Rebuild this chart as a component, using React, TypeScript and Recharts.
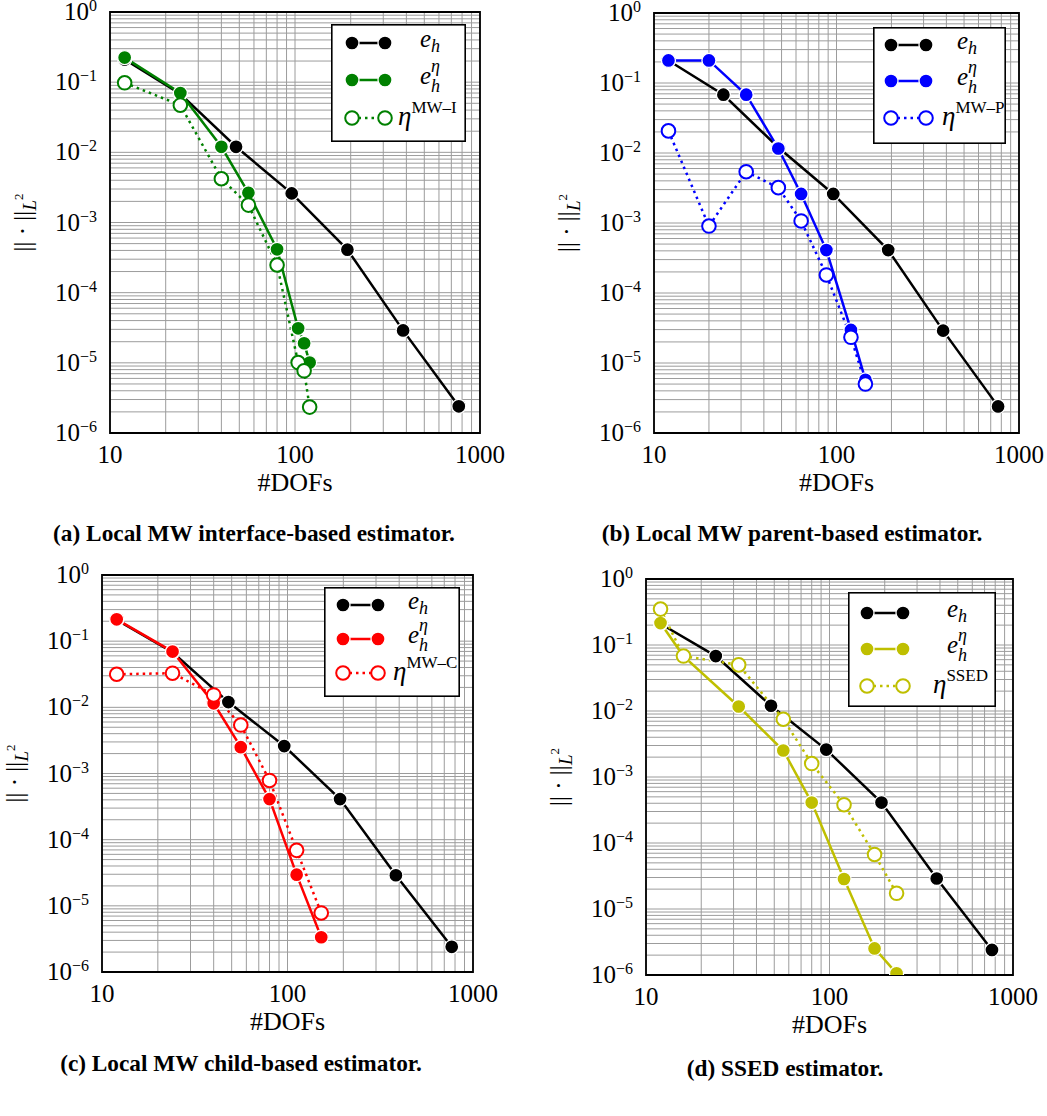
import React from 'react';
import { LineChart, Line, XAxis, YAxis, CartesianGrid, ReferenceArea, Legend } from 'recharts';

const FONT = 'Liberation Serif, Times New Roman, serif';
const SERIF: React.CSSProperties = { fontFamily: FONT };

// exact error e_h (same in all panels)
const dofsExact = [12, 24, 48, 96, 192, 384, 768];
const errExact = [0.21, 0.068, 0.012, 0.0026, 0.00041, 0.000029, 0.0000024];

// (a) interface-based
const dofsA = [12, 24, 40, 56, 80, 104, 112, 120];
const effA = [0.224, 0.07, 0.012, 0.00265, 0.000415, 0.000031, 0.000019, 0.0000101];
const estA = [0.098, 0.047, 0.0042, 0.00177, 0.000248, 0.0000101, 0.0000077, 0.00000234];

// (b) parent-based
const dofsB = [12, 20, 32, 48, 64, 88, 120, 144];
const effB = [0.21, 0.21, 0.068, 0.0116, 0.0026, 0.00041, 0.0000297, 0.00000575];
const estB = [0.0207, 0.000905, 0.0054, 0.0032, 0.00107, 0.000181, 0.0000233, 0.000005];

// (c) child-based
const dofsC = [12, 24, 40, 56, 80, 112, 152];
const effC = [0.214, 0.0696, 0.0115, 0.0025, 0.00041, 0.0000296, 0.00000335];
const estC = [0.0316, 0.0328, 0.0154, 0.0054, 0.000785, 0.000069, 0.0000078];

// (d) SSED
const dofsD = [12, 16, 32, 56, 80, 120, 176, 232];
const effD = [0.215, 0.068, 0.0117, 0.00252, 0.00041, 0.0000285, 0.00000253, 0.00000106];
const estD = [0.35, 0.068, 0.05, 0.0075, 0.0016, 0.00038, 0.000067, 0.0000173];

const xTicks = [10, 20, 30, 40, 50, 60, 70, 80, 90, 100, 200, 300, 400, 500, 600, 700, 800, 900, 1000];
const yTicks = [
  0.000001, 0.000002, 0.000003, 0.000004, 0.000005, 0.000006, 0.000007, 0.000008, 0.000009,
  0.00001, 0.00002, 0.00003, 0.00004, 0.00005, 0.00006, 0.00007, 0.00008, 0.00009,
  0.0001, 0.0002, 0.0003, 0.0004, 0.0005, 0.0006, 0.0007, 0.0008, 0.0009,
  0.001, 0.002, 0.003, 0.004, 0.005, 0.006, 0.007, 0.008, 0.009,
  0.01, 0.02, 0.03, 0.04, 0.05, 0.06, 0.07, 0.08, 0.09,
  0.1, 0.2, 0.3, 0.4, 0.5, 0.6, 0.7, 0.8, 0.9, 1,
];
const xMajorLabels = ['10', '100', '1000'];
const yMajorLabels = ['0', '\u22121', '\u22122', '\u22123', '\u22124', '\u22125', '\u22126'];

const pts = (xs: number[], ys: number[]) => xs.map((x, i) => ({ x, y: ys[i] }));

const majorIndex = (v: number) => {
  const l = Math.log10(v);
  return Math.abs(l - Math.round(l)) < 1e-6 ? Math.round(l) : null;
};

const XTick = (props: any) => {
  const { x, y, payload } = props;
  const m = majorIndex(payload.value);
  if (m === null) return <g />;
  return (
    <text x={x} y={y + 30} textAnchor="middle" fontFamily={FONT} style={{ ...SERIF, fontSize: 25 }} fill="#000">
      {xMajorLabels[m - 1]}
    </text>
  );
};

const YTick = (props: any) => {
  const { x, y, payload } = props;
  const m = majorIndex(payload.value);
  if (m === null) return <g />;
  return (
    <text x={x - 13} y={y + 8} textAnchor="end" fontFamily={FONT} style={{ ...SERIF, fontSize: 25 }} fill="#000">
      <tspan>10</tspan>
      <tspan style={{ fontSize: 16 }} dy={-9}>{yMajorLabels[-m]}</tspan>
    </text>
  );
};

const XLabel = (props: any) => (
  <text x={props.cx} y={props.cy + 8} textAnchor="middle" fontFamily={FONT} style={{ ...SERIF, fontSize: 26 }} fill="#000">
    #DOFs
  </text>
);

const YLabel = (props: any) => {
  const { cx, cy } = props;
  return (
    <text
      x={cx}
      y={cy + 8}
      transform={`rotate(-90 ${cx} ${cy})`}
      textAnchor="middle"
      fontFamily={FONT}
      style={{ ...SERIF, fontSize: 25 }}
      fill="#000"
    >
      {'|| \u00b7 ||'}
      <tspan style={{ fontStyle: 'italic', fontSize: 19 }} dy={5}>L</tspan>
      <tspan style={{ fontSize: 13 }} dy={-13}>2</tspan>
    </text>
  );
};

const filledDot = (color: string) => (p: any) => (
  <circle key={`f-${p.index}`} cx={p.cx} cy={p.cy} r={7} fill={color} stroke="#fff" strokeWidth={1.3} />
);
const openDot = (color: string) => (p: any) => (
  <circle key={`o-${p.index}`} cx={p.cx} cy={p.cy} r={6.8} fill="#fff" stroke={color} strokeWidth={2} />
);

type LegendCfg = { x: number; y: number; w: number; h: number; rows: number[]; mx: number[]; tx: number; etaX: number };

const LegendBox = ({ cfg, color, sup }: { cfg: LegendCfg; color: string; sup: string }) => {
  const { w, h, rows, mx, tx, etaX } = cfg;
  const it: React.CSSProperties = { ...SERIF, fontStyle: 'italic' };
  return (
    <svg width={w} height={h} style={{ display: 'block', fontFamily: FONT }}>
      <rect x={0.8} y={0.8} width={w - 1.6} height={h - 1.6} fill="#fff" stroke="#000" strokeWidth={1.6} />
      {/* row 1 */}
      <line x1={mx[0]} x2={mx[1]} y1={rows[0]} y2={rows[0]} stroke="#000" strokeWidth={2.5} />
      <circle cx={mx[0]} cy={rows[0]} r={7} fill="#000" stroke="#fff" strokeWidth={1.3} />
      <circle cx={mx[1]} cy={rows[0]} r={7} fill="#000" stroke="#fff" strokeWidth={1.3} />
      <text x={tx} y={rows[0] + 4} style={{ ...it, fontSize: 25 }} fill="#000">
        e<tspan style={{ fontSize: 18 }} dy={5}>h</tspan>
      </text>
      {/* row 2 */}
      <line x1={mx[0]} x2={mx[1]} y1={rows[1]} y2={rows[1]} stroke={color} strokeWidth={2.5} />
      <circle cx={mx[0]} cy={rows[1]} r={7} fill={color} stroke="#fff" strokeWidth={1.3} />
      <circle cx={mx[1]} cy={rows[1]} r={7} fill={color} stroke="#fff" strokeWidth={1.3} />
      <text x={tx} y={rows[1] + 4} style={{ ...it, fontSize: 25 }} fill="#000">e</text>
      <text x={tx + 11} y={rows[1] - 8} style={{ ...it, fontSize: 18 }} fill="#000">{'\u03b7'}</text>
      <text x={tx + 11} y={rows[1] + 12} style={{ ...it, fontSize: 18 }} fill="#000">h</text>
      {/* row 3 */}
      <line x1={mx[0]} x2={mx[1]} y1={rows[2]} y2={rows[2]} stroke={color} strokeWidth={2.5} strokeDasharray="2.5 4" />
      <circle cx={mx[0]} cy={rows[2]} r={6.8} fill="#fff" stroke={color} strokeWidth={2} />
      <circle cx={mx[1]} cy={rows[2]} r={6.8} fill="#fff" stroke={color} strokeWidth={2} />
      <text x={etaX} y={rows[2] + 7} style={{ ...SERIF, fontSize: 27 }} fill="#000">
        <tspan style={{ fontStyle: 'italic' }}>{'\u03b7'}</tspan>
        <tspan style={{ fontSize: 17 }} dy={-12}>{sup}</tspan>
      </text>
    </svg>
  );
};

type PanelProps = {
  plot: { l: number; t: number; w: number; h: number };
  color: string;
  dofsEff: number[];
  eff: number[];
  dofsEst: number[];
  est: number[];
  sup: string;
  legend: LegendCfg;
  caption: string;
  capPos: { x: number; y: number };
};

const Panel = ({ plot, color, dofsEff, eff, dofsEst, est, sup, legend, caption, capPos }: PanelProps) => {
  const { l, t, w, h } = plot;
  const mTop = Math.min(20, t);
  const chartLeft = l - 100;
  const chartTop = t - mTop;
  return (
    <>
      <div style={{ position: 'absolute', left: chartLeft, top: chartTop, fontFamily: FONT }}>
        <LineChart
          width={w + 145}
          height={h + mTop + 70}
          margin={{ top: mTop, right: 45, bottom: 0, left: 0 }}
          style={{ fontFamily: FONT }}
        >
          <CartesianGrid stroke="#9c9c9c" strokeWidth={1} />
          <XAxis
            dataKey="x"
            type="number"
            scale="log"
            domain={[10, 1000]}
            allowDataOverflow
            ticks={xTicks}
            interval={0}
            tick={<XTick />}
            tickLine={false}
            axisLine={false}
            tickSize={0}
            tickMargin={0}
            height={70}
            label={<XLabel cx={100 + w / 2} cy={mTop + h + 50} />}
          />
          <YAxis
            type="number"
            scale="log"
            domain={[0.000001, 1]}
            allowDataOverflow
            ticks={yTicks}
            interval={0}
            tick={<YTick />}
            tickLine={false}
            axisLine={false}
            tickSize={0}
            tickMargin={0}
            width={100}
            label={<YLabel cx={13} cy={mTop + h / 2} />}
          />
          <ReferenceArea x1={10} x2={1000} y1={0.000001} y2={1} fill="none" stroke="#000" strokeWidth={1.8} fillOpacity={0} />
          <Line
            data={pts(dofsExact, errExact)}
            dataKey="y"
            name="e_h"
            stroke="#000"
            strokeWidth={2.5}
            dot={filledDot('#000')}
            activeDot={false}
            isAnimationActive={false}
          />
          <Line
            data={pts(dofsEff, eff)}
            dataKey="y"
            name="e_h^eta"
            stroke={color}
            strokeWidth={2.5}
            dot={filledDot(color)}
            activeDot={false}
            isAnimationActive={false}
          />
          <Line
            data={pts(dofsEst, est)}
            dataKey="y"
            name="eta"
            stroke={color}
            strokeWidth={2.5}
            strokeDasharray="2.5 4"
            dot={openDot(color)}
            activeDot={false}
            isAnimationActive={false}
          />
          <Legend
            layout="vertical"
            align="center"
            verticalAlign="middle"
            wrapperStyle={{ left: legend.x - chartLeft, top: legend.y - chartTop, width: legend.w, height: legend.h }}
            content={() => <LegendBox cfg={legend} color={color} sup={sup} />}
          />
        </LineChart>
      </div>
      <div
        style={{
          position: 'absolute',
          left: capPos.x,
          top: capPos.y,
          transform: 'translate(-50%, -50%)',
          whiteSpace: 'nowrap',
          fontFamily: FONT,
          fontWeight: 'bold',
          fontSize: 23.3,
          color: '#000',
        }}
      >
        {caption}
      </div>
    </>
  );
};

export default function App() {
  return (
    <div style={{ position: 'absolute', left: 0, top: 0, width: 1047, height: 1116, background: '#fff', overflow: 'hidden' }}>
      <Panel
        plot={{ l: 110, t: 12, w: 370, h: 421 }}
        color="#008000"
        dofsEff={dofsA}
        eff={effA}
        dofsEst={dofsA}
        est={estA}
        sup={'MW\u2013I'}
        legend={{ x: 331, y: 24, w: 135, h: 118, rows: [19, 56, 94], mx: [21, 54], tx: 89, etaX: 67 }}
        caption="(a) Local MW interface-based estimator."
        capPos={{ x: 254, y: 533 }}
      />
      <Panel
        plot={{ l: 654, t: 13, w: 365, h: 420 }}
        color="#0000ff"
        dofsEff={dofsB}
        eff={effB}
        dofsEst={dofsB}
        est={estB}
        sup={'MW\u2013P'}
        legend={{ x: 873, y: 27, w: 133, h: 117, rows: [18, 54, 91], mx: [18, 53], tx: 84, etaX: 69 }}
        caption="(b) Local MW parent-based estimator."
        capPos={{ x: 792, y: 533 }}
      />
      <Panel
        plot={{ l: 102, t: 575, w: 371, h: 397 }}
        color="#ff0000"
        dofsEff={dofsC}
        eff={effC}
        dofsEst={dofsC}
        est={estC}
        sup={'MW\u2013C'}
        legend={{ x: 324, y: 587, w: 136, h: 110, rows: [18, 52, 86], mx: [19, 54], tx: 84, etaX: 69 }}
        caption="(c) Local MW child-based estimator."
        capPos={{ x: 241, y: 1063 }}
      />
      <Panel
        plot={{ l: 646, t: 579, w: 367, h: 396 }}
        color="#bfbf00"
        dofsEff={dofsD}
        eff={effD}
        dofsEst={dofsD}
        est={estD}
        sup="SSED"
        legend={{ x: 848, y: 592, w: 148, h: 115, rows: [21, 57, 94], mx: [19, 55], tx: 99, etaX: 85 }}
        caption="(d) SSED estimator."
        capPos={{ x: 785, y: 1068 }}
      />
    </div>
  );
}
